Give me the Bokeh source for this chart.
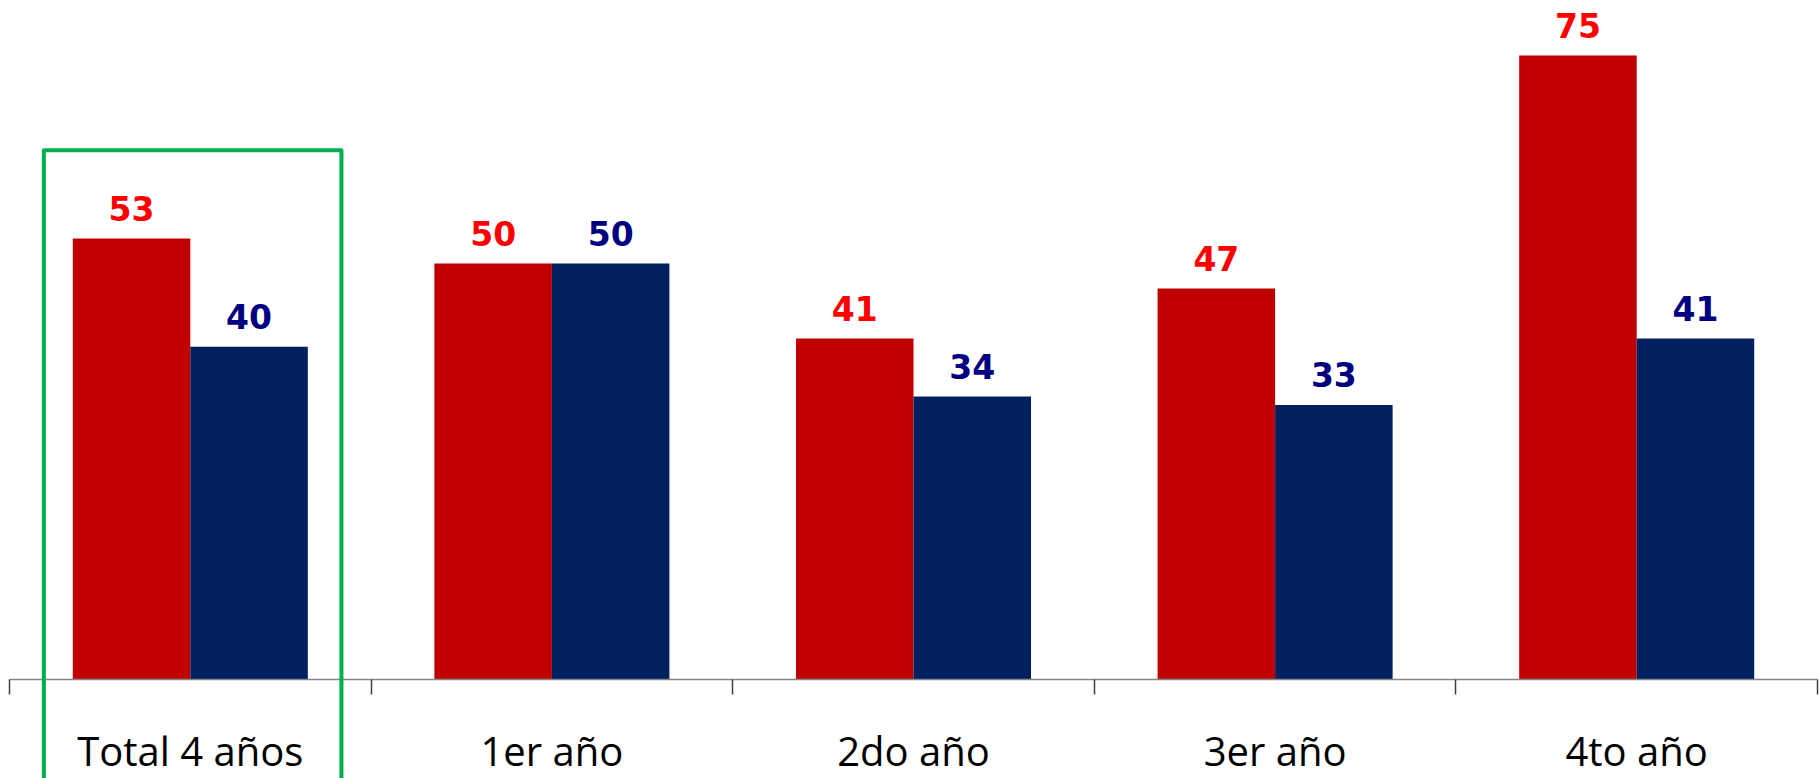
from bokeh.plotting import figure
from bokeh.models import Range1d, LinearAxis, FixedTicker, ColumnDataSource
from bokeh.core.properties import value
from bokeh.transform import dodge
from bokeh.embed import file_html
from bokeh.resources import INLINE

# ---- data ----
categories = ["Total 4 años", "1er año", "2do año", "3er año", "4to año"]
serie_roja = [53, 50, 41, 47, 75]
serie_azul = [40, 50, 34, 33, 41]

# ---- styling ----
RED_BAR = "#C00000"
BLUE_BAR = "#002060"
RED_TXT = "#FF0000"
BLUE_TXT = "#000080"
GREEN = "#00B050"

n = len(categories)
xc = [i + 0.5 for i in range(n)]
src = ColumnDataSource(dict(
    x=xc, cat=categories, roja=serie_roja, azul=serie_azul,
    roja_txt=[str(v) for v in serie_roja], azul_txt=[str(v) for v in serie_azul],
))

W, H = 1819, 778
px_per_unit = 8.32
axis_px = 679
y_top = axis_px / px_per_unit
y_bot = -(H - axis_px) / px_per_unit
cat_px = 361.6
x_start = -9 / cat_px
x_end = x_start + W / cat_px

p = figure(width=W, height=H, x_range=Range1d(x_start, x_end),
           y_range=Range1d(y_bot, y_top), x_axis_type=None, y_axis_type=None,
           toolbar_location=None, output_backend="svg", min_border=0,
           outline_line_color=None, background_fill_color="white")

bw = 0.325
p.vbar(x=dodge("x", -bw / 2), top="roja", width=bw, bottom=0, source=src,
       fill_color=RED_BAR, line_color=None)
p.vbar(x=dodge("x", bw / 2), top="azul", width=bw, bottom=0, source=src,
       fill_color=BLUE_BAR, line_color=None)

lbl_font = value("DejaVu Sans")
p.text(x=dodge("x", -bw / 2), y="roja", text="roja_txt", source=src,
       text_font=lbl_font, text_font_style="bold", text_font_size="33px",
       text_color=RED_TXT, text_align="center", text_baseline="alphabetic", y_offset=-30)
p.text(x=dodge("x", bw / 2), y="azul", text="azul_txt", source=src,
       text_font=lbl_font, text_font_style="bold", text_font_size="33px",
       text_color=BLUE_TXT, text_align="center", text_baseline="alphabetic", y_offset=-30)

# highlight box around first category
p.quad(left=[xc[0] - 0.405], right=[xc[0] + 0.418], top=[63.6], bottom=[y_bot - 5],
       fill_color=None, line_color=GREEN, line_width=4, line_join="round", level="overlay")

ax = LinearAxis(
    fixed_location=0, bounds=(0, n),
    ticker=FixedTicker(ticks=xc, minor_ticks=list(range(n + 1))),
    major_label_overrides={x: c for x, c in zip(xc, categories)},
    major_tick_line_color=None, major_tick_in=0, major_tick_out=0,
    minor_tick_in=0, minor_tick_out=15, minor_tick_line_color="#404040", minor_tick_line_width=1.5,
    axis_line_color="#868686", axis_line_width=1.5,
    major_label_standoff=28, major_label_text_font="Open Sans",
    major_label_text_font_size="40px", major_label_text_color="black",
)
p.add_layout(ax, "below")

open("out.html", "w").write(file_html(p, INLINE))
